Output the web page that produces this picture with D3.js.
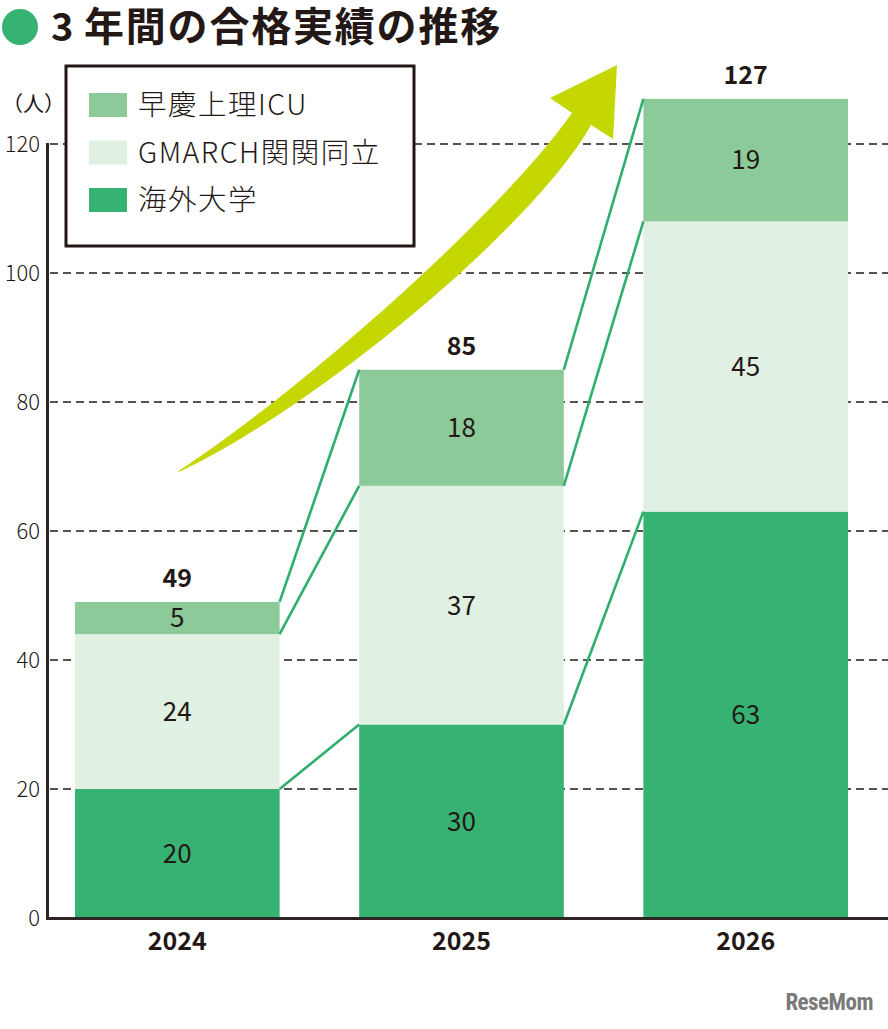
<!DOCTYPE html>
<html><head><meta charset="utf-8">
<script src="https://cdn.jsdelivr.net/npm/d3@7"></script>
<style>
html,body{margin:0;padding:0;background:#fff;}
svg{display:block;font-family:"Noto Sans CJK JP","Noto Sans",sans-serif;}
</style></head>
<body>
<svg id="c" width="888" height="1029"></svg>
<script>
const years = ["2024", "2025", "2026"];
const seriesNames = ["海外大学", "GMARCH関関同立", "早慶上理ICU"];
const kaigai = [20, 30, 63];
const gmarch = [24, 37, 45];
const sokei = [5, 18, 19];
const totals = [49, 85, 127];
const yTicks = [0, 20, 40, 60, 80, 100, 120];
const legendOrder = ["早慶上理ICU", "GMARCH関関同立", "海外大学"];
const colors = {"海外大学": "#36b372", "GMARCH関関同立": "#e0f0e3", "早慶上理ICU": "#8dca9a"};
const ink = "#231815";

const svg = d3.select("#c");
const table = years.map((y, i) => ({year: y, "海外大学": kaigai[i], "GMARCH関関同立": gmarch[i], "早慶上理ICU": sokei[i]}));
const stack = d3.stack().keys(seriesNames)(table);

const y = d3.scaleLinear().domain([0, 120]).range([918, 144]);
const x = d3.scaleBand().domain(years).range([75, 848]).paddingInner(0.28).paddingOuter(0);

// title
svg.append("circle").attr("cx", 20).attr("cy", 27).attr("r", 18).attr("fill", "#36b372");
const tt = svg.append("text").attr("y", 41).attr("font-weight", 700).attr("fill", ink);
tt.append("tspan").attr("x", 51).attr("font-size", 38).text("3");
tt.append("tspan").attr("x", 84).attr("font-size", 40).attr("letter-spacing", 1.8).text("年間の合格実績の推移");

// gridlines
svg.append("g").selectAll("line").data(yTicks.filter(d => d > 0)).join("line")
  .attr("x1", 50).attr("x2", 888).attr("y1", d => y(d)).attr("y2", d => y(d))
  .attr("stroke", ink).attr("stroke-width", 1.3).attr("stroke-dasharray", "8,5");

// y axis labels
const yAxis = d3.axisLeft(y).tickValues(yTicks).tickSize(0).tickPadding(8);
const ga = svg.append("g").attr("transform", "translate(48,0)").call(yAxis);
ga.select(".domain").remove();
ga.selectAll("text").attr("font-size", 22).attr("fill", ink).attr("font-family", "'Noto Sans CJK JP'").attr("font-weight", 300).attr("dy", "0.35em");

svg.append("text").attr("x", 2).attr("y", 111).attr("font-size", 21).attr("fill", ink).text("（人）");

// bars
svg.append("g").selectAll("g").data(stack).join("g").attr("fill", d => colors[d.key])
  .selectAll("rect").data(d => d).join("rect")
  .attr("x", d => x(d.data.year)).attr("width", x.bandwidth())
  .attr("y", d => y(d[1])).attr("height", d => y(d[0]) - y(d[1]));

// connector lines
const conn = [];
stack.forEach(s => {
  for (let i = 0; i < years.length - 1; i++) {
    conn.push({x1: x(years[i]) + x.bandwidth(), y1: y(s[i][1]), x2: x(years[i + 1]), y2: y(s[i + 1][1])});
  }
});
svg.append("g").selectAll("line").data(conn).join("line")
  .attr("x1", d => d.x1).attr("y1", d => d.y1).attr("x2", d => d.x2).attr("y2", d => d.y2)
  .attr("stroke", "#2fae6e").attr("stroke-width", 2.6);

// segment labels
svg.append("g").selectAll("g").data(stack).join("g")
  .selectAll("text").data(d => d).join("text")
  .attr("x", d => x(d.data.year) + x.bandwidth() / 2)
  .attr("y", d => (y(d[0]) + y(d[1])) / 2).attr("dy", "0.36em")
  .attr("text-anchor", "middle").attr("font-size", 26).attr("fill", ink)
  .text(d => d[1] - d[0]);

// totals
svg.append("g").selectAll("text").data(years).join("text")
  .attr("x", d => x(d) + x.bandwidth() / 2)
  .attr("y", (d, i) => y(totals[i]) - 15)
  .attr("text-anchor", "middle").attr("font-size", 25).attr("font-weight", 700).attr("fill", ink)
  .text((d, i) => totals[i]);

// x labels
const xAxis = d3.axisBottom(x).tickSize(0).tickPadding(14);
const gx = svg.append("g").attr("transform", "translate(0,918)").call(xAxis);
gx.select(".domain").remove();
gx.selectAll("text").attr("font-size", 25).attr("font-weight", 700).attr("fill", ink).attr("font-family", "'Noto Sans CJK JP'");

// axis lines
svg.append("line").attr("x1", 47.5).attr("x2", 47.5).attr("y1", 143).attr("y2", 920).attr("stroke", "#2e2625").attr("stroke-width", 3);
svg.append("line").attr("x1", 46).attr("x2", 888).attr("y1", 918.5).attr("y2", 918.5).attr("stroke", "#2e2625").attr("stroke-width", 3);

// arrow (decoration)
const arrowPath = d3.path();
arrowPath.moveTo(177, 472);
arrowPath.bezierCurveTo(300, 392, 500, 215, 572, 113);
arrowPath.lineTo(550, 98);
arrowPath.lineTo(617, 65);
arrowPath.lineTo(613, 139);
arrowPath.lineTo(591, 125);
arrowPath.bezierCurveTo(535, 225, 320, 405, 181, 471);
arrowPath.closePath();
svg.append("path").attr("d", arrowPath.toString()).attr("fill", "#c5d700");

// legend
const lg = svg.append("g");
lg.append("rect").attr("x", 66).attr("y", 66).attr("width", 348).attr("height", 180)
  .attr("fill", "#fff").attr("stroke", ink).attr("stroke-width", 3);
const ly = d3.scalePoint().domain(legendOrder).range([105, 200]);
lg.selectAll("rect.sw").data(legendOrder).join("rect").attr("class", "sw")
  .attr("x", 89).attr("y", d => ly(d) - 12).attr("width", 38).attr("height", 24).attr("fill", d => colors[d]);
lg.selectAll("text").data(legendOrder).join("text")
  .attr("x", 138).attr("y", d => ly(d)).attr("dy", "0.36em").attr("font-size", 28.5).attr("fill", ink)
  .attr("letter-spacing", 1.5).attr("font-weight", 300).text(d => d);

// logo
svg.append("text").attr("x", 873).attr("y", 1010).attr("text-anchor", "end")
  .attr("font-size", 23).attr("font-weight", 700).attr("fill", "#7a7a7a").attr("font-family", "'Roboto Condensed','Roboto',sans-serif")
  .attr("letter-spacing", -0.5).text("ReseMom");
</script>
</body></html>
